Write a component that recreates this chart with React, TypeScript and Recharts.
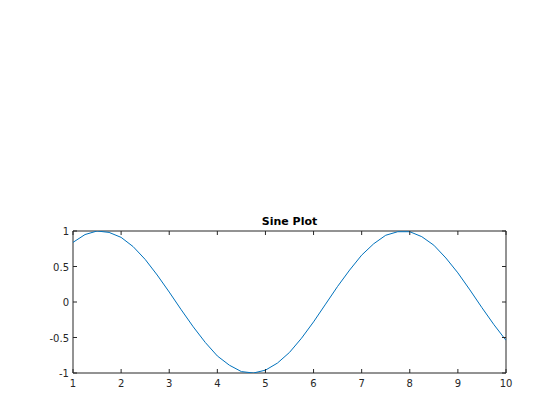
import { LineChart, Line, XAxis, YAxis, ReferenceArea, Label } from "recharts";

const xValues = [
  1, 1.25, 1.5, 1.75, 2, 2.25, 2.5, 2.75, 3, 3.25, 3.5, 3.75, 4, 4.25, 4.5,
  4.75, 5, 5.25, 5.5, 5.75, 6, 6.25, 6.5, 6.75, 7, 7.25, 7.5, 7.75, 8, 8.25,
  8.5, 8.75, 9, 9.25, 9.5, 9.75, 10,
];
const yValues = [
  0.84, 0.95, 1.0, 0.98, 0.91, 0.78, 0.6, 0.38, 0.14, -0.11, -0.35, -0.57,
  -0.76, -0.89, -0.98, -1.0, -0.96, -0.86, -0.71, -0.51, -0.28, -0.03, 0.22,
  0.45, 0.66, 0.82, 0.94, 0.99, 0.99, 0.92, 0.8, 0.62, 0.41, 0.17, -0.08,
  -0.32, -0.54,
];
const xTicks = [1, 2, 3, 4, 5, 6, 7, 8, 9, 10];
const yTicks = [-1, -0.5, 0, 0.5, 1];

const data = xValues.map((x, i) => ({ x, y: yValues[i] }));

// plot box in page pixels
const L = 73;
const R = 506;
const T = 231;
const B = 373;
const INK = "#262626";
const FONT = "'DejaVu Sans', sans-serif";

const XTick = (props: any) => {
  const { x, payload } = props;
  return (
    <g>
      <line x1={x} y1={B} x2={x} y2={B - 4} stroke={INK} />
      <line x1={x} y1={T} x2={x} y2={T + 4} stroke={INK} />
      <text
        x={x}
        y={B + 14}
        textAnchor="middle"
        fill={INK}
        fontSize={10}
        fontFamily={FONT}
      >
        {payload.value}
      </text>
    </g>
  );
};

const YTick = (props: any) => {
  const { y, payload } = props;
  return (
    <g>
      <line x1={L} y1={y} x2={L + 4} y2={y} stroke={INK} />
      <line x1={R} y1={y} x2={R - 4} y2={y} stroke={INK} />
      <text
        x={L - 4}
        y={y + 4}
        textAnchor="end"
        fill={INK}
        fontSize={10}
        fontFamily={FONT}
      >
        {payload.value}
      </text>
    </g>
  );
};

export default function App() {
  return (
    <div style={{ position: "absolute", left: 0, top: 0, background: "#fff" }}>
      <LineChart
        width={560}
        height={420}
        data={data}
        margin={{ top: T, right: 560 - R, bottom: 420 - B - 20, left: L - 30 }}
      >
        <XAxis
          type="number"
          dataKey="x"
          domain={[1, 10]}
          ticks={xTicks}
          axisLine={false}
          tickLine={false}
          tick={<XTick />}
          height={20}
          allowDataOverflow
        />
        <YAxis
          type="number"
          domain={[-1, 1]}
          ticks={yTicks}
          axisLine={false}
          tickLine={false}
          tick={<YTick />}
          width={30}
          allowDataOverflow
        />
        <ReferenceArea
          x1={1}
          x2={10}
          y1={-1}
          y2={1}
          fill="none"
          stroke={INK}
          strokeWidth={1}
          ifOverflow="visible"
        >
          <Label
            value="Sine Plot"
            position="top"
            offset={6}
            fill="#000"
            fontSize={11}
            fontWeight="bold"
            fontFamily={FONT}
          />
        </ReferenceArea>
        <Line
          type="linear"
          dataKey="y"
          stroke="#0072BD"
          strokeWidth={1}
          dot={false}
          isAnimationActive={false}
        />
      </LineChart>
    </div>
  );
}
